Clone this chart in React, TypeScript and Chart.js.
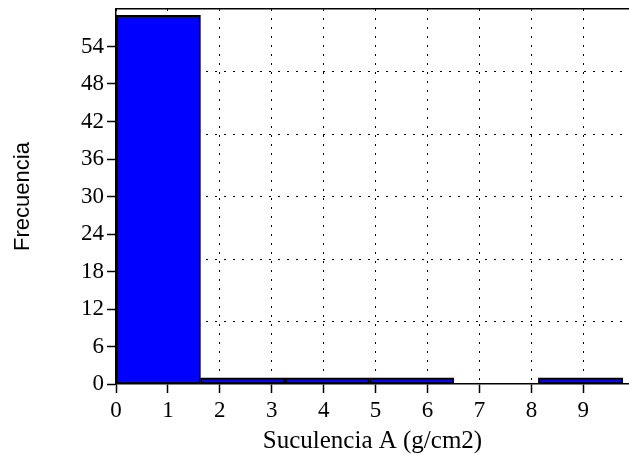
import React, { useEffect, useRef } from 'react';
import { Chart, registerables } from 'chart.js';

Chart.register(...registerables);

// Histogram data
const binEdges = [0, 1.627, 3.254, 4.881, 6.508, 8.135, 9.762];
const binCounts = [59, 1, 1, 1, 0, 1];

// Axis ranges and tick values
const xMin = 0;
const xMax = 9.88;
const yMin = 0;
const yMax = 60;
const xTickValues = [0, 1, 2, 3, 4, 5, 6, 7, 8, 9];
const yTickValues = [0, 6, 12, 18, 24, 30, 36, 42, 48, 54];
const yGridValues = [10, 20, 30, 40, 50];

const xTitle = 'Suculencia A (g/cm2)';
const yTitle = 'Frecuencia';

const serif = "'Liberation Serif', 'Times New Roman', serif";
const sans = "'Liberation Sans', Arial, sans-serif";

export default function App() {
  const canvasRef = useRef<HTMLCanvasElement | null>(null);

  useEffect(() => {
    if (!canvasRef.current) return;
    Chart.defaults.color = '#000';

    const points = binCounts.map((c, i) => ({
      x: (binEdges[i] + binEdges[i + 1]) / 2,
      y: c,
    }));

    const chart = new Chart(canvasRef.current, {
      type: 'bar',
      data: {
        datasets: [
          {
            data: points as any,
            xAxisID: 'xTop',
            yAxisID: 'y',
            backgroundColor: '#0000ff',
            borderColor: '#000',
            borderWidth: 2,
            borderSkipped: false,
            barPercentage: 1,
            categoryPercentage: 1,
          },
        ],
      },
      options: {
        animation: false,
        responsive: false,
        maintainAspectRatio: false,
        layout: { padding: { top: 9, left: 0, right: 0, bottom: 0 } },
        plugins: { legend: { display: false }, tooltip: { enabled: false } },
        scales: {
          x: {
            type: 'linear',
            position: 'bottom',
            offset: false,
            min: xMin,
            max: xMax,
            afterBuildTicks: (s: any) => {
              s.ticks = xTickValues.map((v) => ({ value: v }));
            },
            afterFit: (s: any) => {
              s.height = 71;
              s.paddingRight = 0;
            },
            ticks: {
              callback: (v: any) => String(v),
              font: { family: serif, size: 23 },
              color: '#000',
              padding: 4,
              maxRotation: 0,
              autoSkip: false,
            },
            grid: {
              display: true,
              offset: false,
              drawOnChartArea: true,
              drawTicks: true,
              color: '#000',
              lineWidth: 1,
              tickLength: 9,
              tickColor: '#000',
              tickWidth: 1.5,
              tickBorderDash: [],
            },
            border: { display: true, color: '#000', width: 1.5, dash: [2, 7] },
            title: {
              display: true,
              text: xTitle,
              font: { family: serif, size: 25, lineHeight: 1.1 },
              color: '#000',
              padding: { top: 0, bottom: 0 },
            },
          },
          xTop: {
            type: 'linear',
            position: 'top',
            offset: false,
            min: xMin,
            max: xMax,
            afterBuildTicks: (s: any) => {
              s.ticks = [{ value: xMin }, { value: xMax }];
            },
            afterFit: (s: any) => {
              s.height = 0;
              s.paddingLeft = 0;
              s.paddingRight = 0;
            },
            ticks: { display: false },
            grid: { display: true, offset: false, drawOnChartArea: false, drawTicks: false },
            border: { display: true, color: '#000', width: 1.5 },
          },
          y: {
            type: 'linear',
            position: 'left',
            min: yMin,
            max: yMax,
            afterBuildTicks: (s: any) => {
              s.ticks = yTickValues.map((v) => ({ value: v }));
            },
            afterFit: (s: any) => {
              s.width = 116;
              s.paddingTop = 0;
              s.paddingBottom = 0;
            },
            ticks: {
              callback: (v: any) => String(v),
              font: { family: serif, size: 23 },
              color: '#000',
              padding: 3,
              autoSkip: false,
            },
            grid: {
              display: true,
              drawOnChartArea: false,
              drawTicks: true,
              tickLength: 9,
              tickColor: '#000',
              tickWidth: 1.5,
              tickBorderDash: [],
            },
            border: { display: true, color: '#000', width: 1.5 },
            title: {
              display: true,
              text: yTitle,
              font: { family: sans, size: 22, lineHeight: 1.2 },
              color: '#000',
              padding: { top: 10, bottom: 0 },
            },
          },
          yGrid: {
            type: 'linear',
            position: 'right',
            min: yMin,
            max: yMax,
            afterBuildTicks: (s: any) => {
              s.ticks = yGridValues.map((v) => ({ value: v }));
            },
            afterFit: (s: any) => {
              s.width = 0;
              s.paddingTop = 0;
              s.paddingBottom = 0;
            },
            ticks: { display: false },
            grid: {
              display: true,
              drawOnChartArea: true,
              drawTicks: false,
              color: '#000',
              lineWidth: 1,
            },
            border: { display: false, dash: [2, 7] },
          },
        } as any,
      },
    });

    return () => chart.destroy();
  }, []);

  return (
    <div
      style={{
        position: 'fixed',
        left: 0,
        top: 0,
        width: 629,
        height: 455,
        background: '#fff',
      }}
    >
      <canvas ref={canvasRef} width={629} height={455} style={{ display: 'block' }} />
    </div>
  );
}
